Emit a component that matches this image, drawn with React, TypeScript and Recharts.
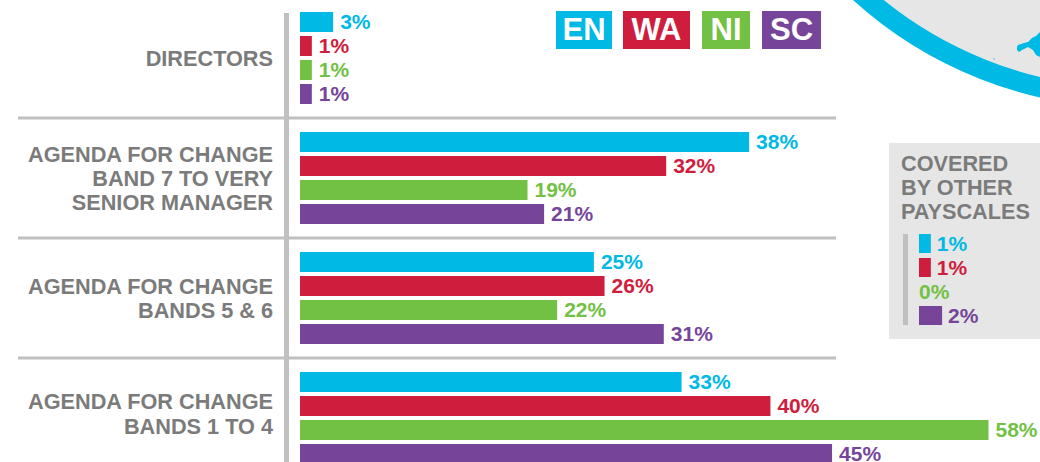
import React from 'react';
import { BarChart, Bar, XAxis, YAxis, Cell, LabelList } from 'recharts';

const FONT = '"Liberation Sans", Arial, sans-serif';
const GREY_TEXT = '#7b7b7b';
const GREY_LINE = '#c0c0c0';
const PANEL = '#e6e6e6';

const categories = ['DIRECTORS', 'BAND 7', 'BANDS 5 6', 'BANDS 1 4'];
const categoryLines: Record<string, string[]> = {
  DIRECTORS: ['DIRECTORS'],
  'BAND 7': ['AGENDA FOR CHANGE', 'BAND 7 TO VERY', 'SENIOR MANAGER'],
  'BANDS 5 6': ['AGENDA FOR CHANGE', 'BANDS 5 & 6'],
  'BANDS 1 4': ['AGENDA FOR CHANGE', 'BANDS 1 TO 4'],
};

const seriesNames = ['EN', 'WA', 'NI', 'SC'];
const seriesColors = ['#00b9e4', '#cf1d3d', '#72c144', '#76459a'];

// bar lengths as drawn in the picture, labels as printed
const enValues = [2.8, 37.9, 24.8, 32.2];
const waValues = [1, 30.9, 25.7, 39.7];
const niValues = [1, 19.2, 21.7, 58.1];
const scValues = [1, 20.6, 30.7, 44.9];
const enLabels = ['3%', '38%', '25%', '33%'];
const waLabels = ['1%', '32%', '26%', '40%'];
const niLabels = ['1%', '19%', '22%', '58%'];
const scLabels = ['1%', '21%', '31%', '45%'];

const otherValues = [1, 1, 0, 1.95];
const otherLabels = ['1%', '1%', '0%', '2%'];

const tableData = categories.map((name, i) => ({
  name,
  EN: enValues[i],
  WA: waValues[i],
  NI: niValues[i],
  SC: scValues[i],
  ENlabel: enLabels[i],
  WAlabel: waLabels[i],
  NIlabel: niLabels[i],
  SClabel: scLabels[i],
}));

const otherData = seriesNames.map((name, i) => ({
  name,
  value: otherValues[i],
  label: otherLabels[i],
}));

const PX_PER_POINT = 11.85;
const LABEL_SIZE = 21;
const TEXT_SIZE = 21.7;
const chipBoxes = [
  { left: 556, width: 56 },
  { left: 623, width: 67 },
  { left: 702, width: 48 },
  { left: 762, width: 59 },
];
const separators = [118, 238, 358];

const CategoryTick = ({ y, payload }: any) => {
  const lines = categoryLines[payload.value] || [];
  const pitch = payload.value === 'BANDS 1 4' ? 25 : 24;
  const shift = payload.value === 'BANDS 1 4' ? -5 : 0;
  const first = y + shift + 8 - ((lines.length - 1) * pitch) / 2;
  return (
    <text textAnchor="end" fontFamily={FONT} fontWeight="bold" fontSize={TEXT_SIZE} fill={GREY_TEXT}>
      {lines.map((line, i) => (
        <tspan key={line} x={273} y={first + i * pitch}>
          {line}
        </tspan>
      ))}
    </text>
  );
};

const OtherLabel = ({ x, y, width, height, index }: any) => (
  <text
    x={x + width + (otherValues[index] === 0 ? 0 : 6)}
    y={y + height / 2 + 7}
    fontFamily={FONT}
    fontWeight="bold"
    fontSize={LABEL_SIZE}
    fill={seriesColors[index]}
  >
    {otherLabels[index]}
  </text>
);

const Backdrop = () => (
  <svg width={1040} height={462} style={{ position: 'absolute', left: 0, top: 0 }}>
    <circle cx={1133} cy={-309} r={407} fill={PANEL} stroke="#00b9e4" strokeWidth={20} />
    <path
      d="M1017 47 L1018 45 L1024 43 L1028 42 L1032 38 L1036 36 L1040 32 L1040 57 L1036 55 L1033 50 L1028 47 L1022 50 L1019 52 L1017 50 Z"
      fill="#00b9e4"
    />
    <circle cx={994} cy={59} r={1} fill="#7fcfe6" />
    <rect x={284} y={13} width={5} height={449} fill={GREY_LINE} />
    {separators.map((y) => (
      <rect key={y} x={18} y={y - 1.5} width={818} height={3} fill={GREY_LINE} />
    ))}
    <rect x={889} y={143} width={151} height={196} fill={PANEL} />
    <rect x={903} y={234} width={5} height={91} fill={GREY_LINE} />
  </svg>
);

export default function App() {
  return (
    <div style={{ position: 'absolute', left: 0, top: 0, width: 1040, height: 462, overflow: 'hidden', background: '#fff' }}>
      <Backdrop />

      <div style={{ position: 'absolute', left: 0, top: -2 }}>
        <BarChart
          width={1040}
          height={480}
          data={tableData}
          layout="vertical"
          margin={{ top: 0, right: 0, bottom: 0, left: 0 }}
          barSize={20}
          barGap={4}
          barCategoryGap={0}
        >
          <XAxis type="number" hide domain={[0, 740 / PX_PER_POINT]} />
          <YAxis
            type="category"
            dataKey="name"
            width={300}
            axisLine={false}
            tickLine={false}
            tick={<CategoryTick />}
            interval={0}
          />
          {seriesNames.map((name, i) => (
            <Bar key={name} dataKey={name} fill={seriesColors[i]} isAnimationActive={false}>
              <LabelList
                dataKey={`${name}label`}
                position="right"
                offset={7}
                fill={seriesColors[i]}
                fontFamily={FONT}
                fontWeight="bold"
                fontSize={LABEL_SIZE}
              />
            </Bar>
          ))}
        </BarChart>
      </div>

      <div style={{ position: 'absolute', left: 901, top: 152, fontFamily: FONT, fontWeight: 'bold', fontSize: TEXT_SIZE, lineHeight: '24px', color: GREY_TEXT }}>
        COVERED
        <br />
        BY OTHER
        <br />
        PAYSCALES
      </div>

      <div style={{ position: 'absolute', left: 919, top: 231 }}>
        <BarChart
          width={121}
          height={96}
          data={otherData}
          layout="vertical"
          margin={{ top: 0, right: 0, bottom: 0, left: 0 }}
          barSize={19}
          barCategoryGap={0}
        >
          <XAxis type="number" hide domain={[0, 121 / PX_PER_POINT]} />
          <YAxis type="category" dataKey="name" hide />
          {/* minPointSize keeps the 0% row, otherwise it loses its label */}
          <Bar dataKey="value" minPointSize={0.01} isAnimationActive={false} label={<OtherLabel />}>
            {otherData.map((d, i) => (
              <Cell key={d.name} fill={seriesColors[i]} />
            ))}
          </Bar>
        </BarChart>
      </div>

      {seriesNames.map((name, i) => (
        <div
          key={name}
          style={{
            position: 'absolute',
            left: chipBoxes[i].left,
            top: 11,
            width: chipBoxes[i].width,
            height: 38,
            lineHeight: '38px',
            textAlign: 'center',
            background: seriesColors[i],
            color: '#fff',
            fontFamily: FONT,
            fontWeight: 'bold',
            fontSize: 31,
          }}
        >
          {name}
        </div>
      ))}
    </div>
  );
}
